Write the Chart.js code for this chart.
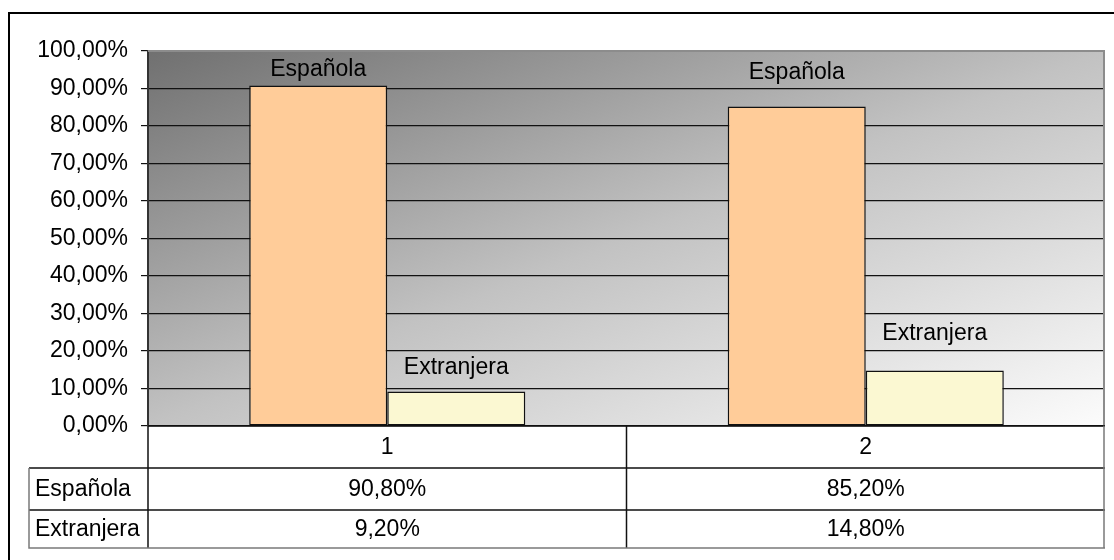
<!DOCTYPE html>
<html>
<head>
<meta charset="utf-8">
<script src="https://cdn.jsdelivr.net/npm/chart.js@4.4.1/dist/chart.umd.min.js"></script>
<style>
  html, body { margin:0; padding:0; background:#fff; }
  #wrap { width:1114px; height:560px; }
</style>
</head>
<body>
<div id="wrap"><canvas id="grafico" width="1114" height="560"></canvas></div>
<script>
// datos
var categorias = ["1", "2"];
var espanola = [90.8, 85.2];
var extranjera = [9.2, 14.8];
var nombresSeries = ["Española", "Extranjera"];
var coloresSeries = ["#FFCC99", "#FBF8D2"];

var fuente = "Liberation Sans, Arial, sans-serif";
var tamTexto = 23;
// separación de la etiqueta sobre cada barra [serie][categoria]
var subidaEtiqueta = [[16, 34], [24, 37]];

function formatoPct(v){
    return v.toFixed(2).replace(".", ",") + "%";
}

var fondoPlot = {
    id: "fondoPlot",
    beforeDraw: function(chart){
        var a = chart.chartArea, ctx = chart.ctx;
        var w = a.right - a.left, h = a.bottom - a.top;
        var k = 2*w*h/(w*w + h*h);
        var g = ctx.createLinearGradient(a.left, a.top, a.left + h*k, a.top + w*k);
        g.addColorStop(0, "#707070");
        g.addColorStop(0.5, "#c2c2c2");
        g.addColorStop(1, "#fcfcfc");
        ctx.save();
        ctx.fillStyle = g;
        ctx.fillRect(a.left, a.top, w, h);
        ctx.restore();
    }
};

var etiquetasYTabla = {
    id: "etiquetasYTabla",
    afterDatasetsDraw: function(chart){
        var ctx = chart.ctx;
        ctx.save();
        ctx.font = tamTexto + "px " + fuente;
        ctx.fillStyle = "#000";
        ctx.textAlign = "center";
        ctx.textBaseline = "middle";
        chart.data.datasets.forEach(function(ds, i){
            chart.getDatasetMeta(i).data.forEach(function(bar, j){
                ctx.fillText(ds.label, bar.x, bar.y - subidaEtiqueta[i][j]);
            });
        });
        ctx.restore();
    },
    afterDraw: function(chart){
        var ctx = chart.ctx, a = chart.chartArea, xs = chart.scales.x;
        var izqTabla = 29, filaH = [42, 42, 38];
        var y0 = a.bottom, y1 = y0 + filaH[0], y2 = y1 + filaH[1], y3 = y2 + filaH[2];
        var bordes = [a.left];
        for (var i = 0; i < categorias.length; i++) {
            var xc = xs.getPixelForValue(i);
            var mitad = (i + 1 < categorias.length) ? (xs.getPixelForValue(i+1) - xc)/2 : (a.right - xc);
            bordes.push(xc + mitad);
        }
        ctx.save();
        // borde del area del grafico
        ctx.strokeStyle = "#8c8c8c";
        ctx.lineWidth = 2;
        ctx.beginPath();
        ctx.moveTo(a.left, a.top); ctx.lineTo(a.right - 1, a.top); ctx.lineTo(a.right - 1, a.bottom);
        ctx.stroke();

        // lineas de la tabla
        ctx.lineWidth = 1.5;
        ctx.strokeStyle = "#111";
        ctx.beginPath();
        ctx.moveTo(a.left, y0); ctx.lineTo(a.right, y0);
        ctx.moveTo(izqTabla, y1); ctx.lineTo(a.right, y1);
        ctx.moveTo(izqTabla, y2); ctx.lineTo(a.right, y2);
        ctx.moveTo(a.left, y0); ctx.lineTo(a.left, y3);
        for (var b = 1; b < bordes.length - 1; b++) {
            ctx.moveTo(bordes[b], y0); ctx.lineTo(bordes[b], y3);
        }
        ctx.stroke();
        ctx.strokeStyle = "#7a7a7a";
        ctx.beginPath();
        ctx.moveTo(izqTabla, y1); ctx.lineTo(izqTabla, y3); ctx.lineTo(a.right, y3);
        ctx.moveTo(a.right - 1, y0); ctx.lineTo(a.right - 1, y3);
        ctx.stroke();

        // textos
        ctx.font = tamTexto + "px " + fuente;
        ctx.fillStyle = "#000";
        ctx.textBaseline = "middle";
        ctx.textAlign = "center";
        var series = [espanola, extranjera];
        for (var c = 0; c < categorias.length; c++) {
            var xc2 = xs.getPixelForValue(c);
            ctx.fillText(categorias[c], xc2, (y0 + y1)/2 + 1);
            ctx.fillText(formatoPct(series[0][c]), xc2, (y1 + y2)/2 + 1);
            ctx.fillText(formatoPct(series[1][c]), xc2, (y2 + y3)/2 + 1);
        }
        ctx.textAlign = "left";
        ctx.fillText(nombresSeries[0], izqTabla + 6, (y1 + y2)/2 + 1);
        ctx.fillText(nombresSeries[1], izqTabla + 6, (y2 + y3)/2 + 1);

        // marco exterior
        ctx.strokeStyle = "#000";
        ctx.lineWidth = 2;
        ctx.strokeRect(9, 13, 1200, 700);
        ctx.restore();
    }
};

var ctx = document.getElementById("grafico").getContext("2d");
var chart = new Chart(ctx, {
    type: "bar",
    data: {
        labels: categorias,
        datasets: [
            { label: nombresSeries[0], data: espanola, backgroundColor: coloresSeries[0],
              borderColor: "#111", borderWidth: 1.5, borderSkipped: false },
            { label: nombresSeries[1], data: extranjera, backgroundColor: coloresSeries[1],
              borderColor: "#111", borderWidth: 1.5, borderSkipped: false }
        ]
    },
    options: {
        responsive: false,
        animation: false,
        events: [],
        layout: { padding: { left: 0, top: 51, right: 9, bottom: 134 } },
        datasets: { bar: { categoryPercentage: 0.577, barPercentage: 1.0 } },
        plugins: { legend: { display: false }, tooltip: { enabled: false } },
        scales: {
            x: { display: false },
            y: {
                min: 0, max: 100,
                afterFit: function(s){ s.width = 148; },
                ticks: { stepSize: 10, padding: 13, color: "#000",
                         font: { family: fuente, size: tamTexto },
                         callback: function(v){ return formatoPct(v); } },
                grid: { color: "#111", lineWidth: 1.2, tickLength: 7 },
                border: { display: true, color: "#333", width: 2 }
            }
        }
    },
    plugins: [fondoPlot, etiquetasYTabla]
});
</script>
</body>
</html>
